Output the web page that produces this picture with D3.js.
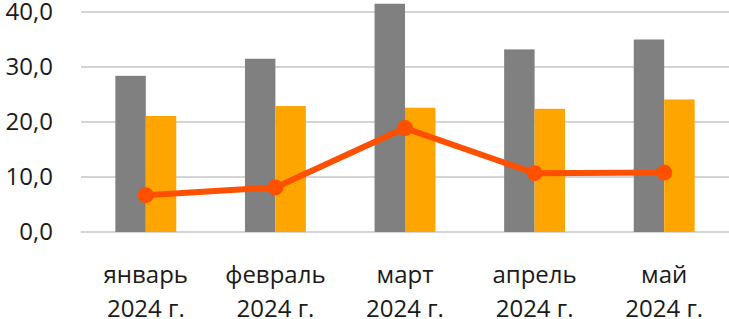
<!DOCTYPE html>
<html>
<head>
<meta charset="utf-8">
<script src="https://cdn.jsdelivr.net/npm/d3@7"></script>
<style>
  html, body { margin: 0; padding: 0; background: #fff; }
  svg { display: block; }
</style>
</head>
<body>
<div id="chart"></div>
<script>
// data
var months = ["январь", "февраль", "март", "апрель", "май"];
var yearLabel = "2024 г.";
var grayValues = [28.4, 31.5, 41.5, 33.2, 35.0];
var orangeValues = [21.1, 22.9, 22.6, 22.4, 24.1];
var lineValues = [6.7, 8.1, 18.9, 10.7, 10.8];
var yTicks = [0, 10, 20, 30, 40];

(function () {
    "use strict";

    var vWidth = 729, vHeight = 319;
    var vMargin = { mTop: 12, mRight: 0, mBottom: 87, mLeft: 81 };

    var svg = d3.select("#chart")
        .append("svg")
        .attr("width", vWidth)
        .attr("height", vHeight);

    var vXAxis = d3.scaleBand()
        .domain(months)
        .range([vMargin.mLeft, vWidth - vMargin.mRight])
        .paddingInner(0.53)
        .paddingOuter(0.265);

    var vSub = d3.scaleBand()
        .domain(["gray", "orange"])
        .range([0, vXAxis.bandwidth()]);

    // 0 at y=232, 40 at y=12
    var vYAxis = d3.scaleLinear()
        .domain([0, 40])
        .range([vHeight - vMargin.mBottom, vMargin.mTop]);

    var fontFamily = "'Open Sans', 'Noto Sans', sans-serif";

    // gridlines
    svg.append("g")
        .selectAll("line")
        .data(yTicks)
        .enter()
        .append("line")
            .attr("x1", vMargin.mLeft)
            .attr("x2", vWidth)
            .attr("y1", function (d) { return vYAxis(d); })
            .attr("y2", function (d) { return vYAxis(d); })
            .attr("stroke", "#d4d4d4")
            .attr("stroke-width", 2);

    // y labels
    svg.append("g")
        .selectAll("text")
        .data(yTicks)
        .enter()
        .append("text")
            .attr("x", 53)
            .attr("y", function (d) { return vYAxis(d); })
            .attr("dy", "0.35em")
            .attr("text-anchor", "end")
            .style("font-family", fontFamily)
            .style("font-size", "24px")
            .attr("fill", "#1a1a1a")
            .text(function (d) { return d.toFixed(1).replace(".", ","); });

    // bars
    var vGroups = svg.append("g")
        .selectAll("g")
        .data(months)
        .enter()
        .append("g")
            .attr("transform", function (d) { return "translate(" + vXAxis(d) + ",0)"; });

    vGroups.append("rect")
        .attr("x", vSub("gray"))
        .attr("width", vSub.bandwidth())
        .attr("y", function (d, i) { return vYAxis(grayValues[i]); })
        .attr("height", function (d, i) { return vYAxis(0) - vYAxis(grayValues[i]); })
        .attr("fill", "#808080");

    vGroups.append("rect")
        .attr("x", vSub("orange"))
        .attr("width", vSub.bandwidth())
        .attr("y", function (d, i) { return vYAxis(orangeValues[i]); })
        .attr("height", function (d, i) { return vYAxis(0) - vYAxis(orangeValues[i]); })
        .attr("fill", "#FFA500");

    // line
    var vLine = d3.line()
        .x(function (d, i) { return vXAxis(months[i]) + vXAxis.bandwidth() / 2; })
        .y(function (d) { return vYAxis(d); });

    svg.append("path")
        .datum(lineValues)
        .attr("d", vLine)
        .attr("fill", "none")
        .attr("stroke", "#FF5000")
        .attr("stroke-width", 6)
        .attr("stroke-linejoin", "round");

    svg.append("g")
        .selectAll("circle")
        .data(lineValues)
        .enter()
        .append("circle")
            .attr("cx", function (d, i) { return vXAxis(months[i]) + vXAxis.bandwidth() / 2; })
            .attr("cy", function (d) { return vYAxis(d); })
            .attr("r", 8)
            .attr("fill", "#FF5000");

    // x labels
    var vLabels = svg.append("g")
        .selectAll("text")
        .data(months)
        .enter()
        .append("text")
            .attr("text-anchor", "middle")
            .style("font-family", fontFamily)
            .style("font-size", "24px")
            .attr("fill", "#1a1a1a");

    vLabels.append("tspan")
        .attr("x", function (d) { return vXAxis(d) + vXAxis.bandwidth() / 2; })
        .attr("y", 283)
        .text(function (d) { return d; });

    vLabels.append("tspan")
        .attr("x", function (d) { return vXAxis(d) + vXAxis.bandwidth() / 2; })
        .attr("y", 317)
        .text(yearLabel);
})();
</script>
</body>
</html>
